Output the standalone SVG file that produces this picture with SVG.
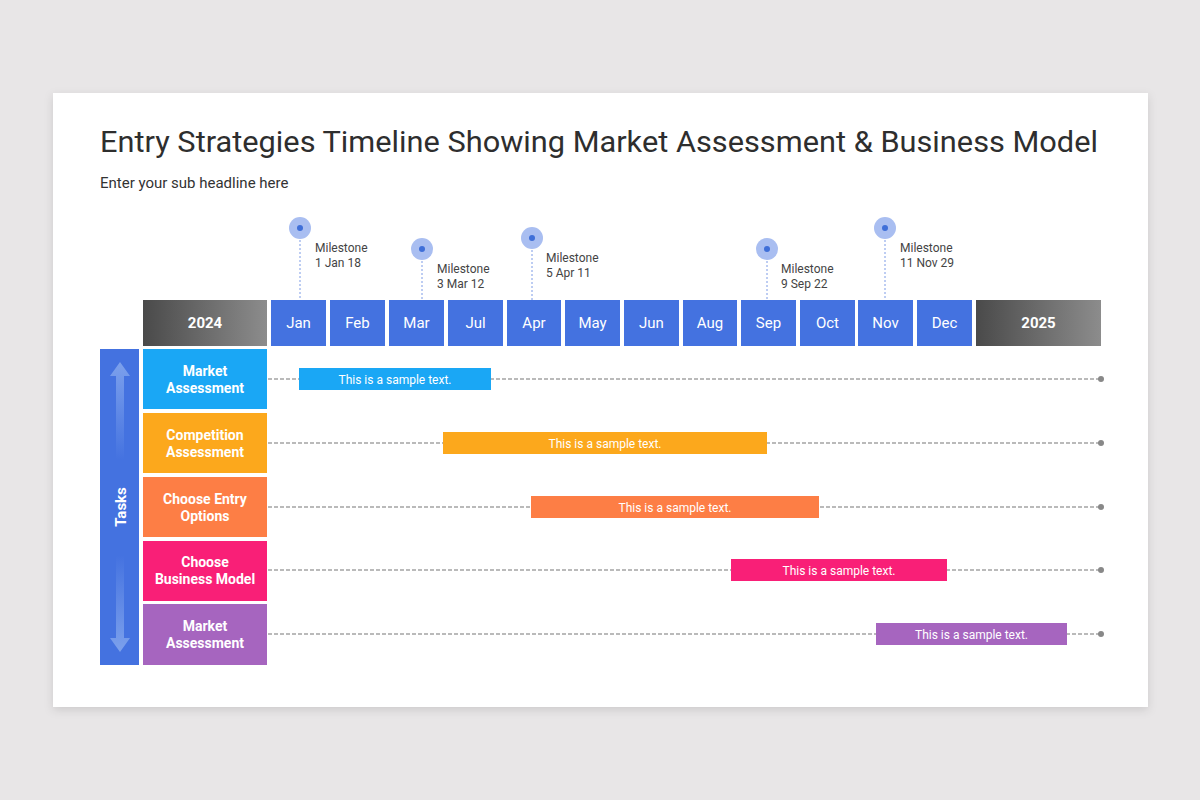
<svg xmlns="http://www.w3.org/2000/svg" width="1200" height="800" viewBox="0 0 1200 800">
<defs>
<filter id="sh" x="-5%" y="-5%" width="110%" height="115%"><feDropShadow dx="0" dy="3" stdDeviation="5" flood-color="#000" flood-opacity="0.12"/></filter>
<linearGradient id="yr" x1="0" y1="0" x2="1" y2="0"><stop offset="0" stop-color="#4a4a4a"/><stop offset="1" stop-color="#8c8c8c"/></linearGradient>
<linearGradient id="up" x1="0" y1="0" x2="0" y2="1"><stop offset="0" stop-color="#8fb0f0" stop-opacity="0.75"/><stop offset="1" stop-color="#8fb0f0" stop-opacity="0"/></linearGradient>
<linearGradient id="dn" x1="0" y1="1" x2="0" y2="0"><stop offset="0" stop-color="#8fb0f0" stop-opacity="0.75"/><stop offset="1" stop-color="#8fb0f0" stop-opacity="0"/></linearGradient>
<style>
text{font-family:Roboto,"Liberation Sans",sans-serif}
.mon{fill:#4472e0}
.mt{fill:#fff;font-size:15px;text-anchor:middle}
.yt{fill:#fff;font-size:15px;font-weight:bold;text-anchor:middle}
.ms{fill:#444;font-size:12px}
.mc{fill:#a9bef1}
.md{fill:#3f6fd8}
.ml{stroke:#7d9be6;stroke-width:1;stroke-dasharray:2 2}
.tl{fill:#fff;font-size:14px;font-weight:bold;text-anchor:middle}
.bt{fill:#fff;font-size:12px;text-anchor:middle}
.dash{stroke:#777;stroke-width:1.2;stroke-dasharray:4 2;fill:none}
.end{fill:#888}
</style>
</defs>
<rect width="1200" height="800" fill="#e8e6e7"/>
<rect x="53" y="93" width="1095" height="614" fill="#fff" filter="url(#sh)"/>
<text x="100" y="152" font-size="30" fill="#2e2e2e" textLength="998" lengthAdjust="spacingAndGlyphs">Entry Strategies Timeline Showing Market Assessment &amp; Business Model</text>
<text x="100" y="188" font-size="15" fill="#333">Enter your sub headline here</text>

<g id="connectors">
<line class="dash" x1="268" y1="379" x2="1101" y2="379"/><circle class="end" cx="1101" cy="379" r="3"/>
<line class="dash" x1="268" y1="443" x2="1101" y2="443"/><circle class="end" cx="1101" cy="443" r="3"/>
<line class="dash" x1="268" y1="507" x2="1101" y2="507"/><circle class="end" cx="1101" cy="507" r="3"/>
<line class="dash" x1="268" y1="570" x2="1101" y2="570"/><circle class="end" cx="1101" cy="570" r="3"/>
<line class="dash" x1="268" y1="634" x2="1101" y2="634"/><circle class="end" cx="1101" cy="634" r="3"/>
<line class="ml" x1="300" y1="232" x2="300" y2="300"/>
<line class="ml" x1="422" y1="253" x2="422" y2="300"/>
<line class="ml" x1="532" y1="242" x2="532" y2="300"/>
<line class="ml" x1="767" y1="253" x2="767" y2="300"/>
<line class="ml" x1="885" y1="232" x2="885" y2="300"/>
</g>

<g id="milestones">
<g id="ms1"><circle class="mc" cx="300" cy="228" r="11"/><circle class="md" cx="300" cy="228" r="3"/><text class="ms" x="315" y="252">Milestone</text><text class="ms" x="315" y="267">1 Jan 18</text></g>
<g id="ms2"><circle class="mc" cx="422" cy="249" r="11"/><circle class="md" cx="422" cy="249" r="3"/><text class="ms" x="437" y="273">Milestone</text><text class="ms" x="437" y="288">3 Mar 12</text></g>
<g id="ms3"><circle class="mc" cx="532" cy="238" r="11"/><circle class="md" cx="532" cy="238" r="3"/><text class="ms" x="546" y="262">Milestone</text><text class="ms" x="546" y="277">5 Apr 11</text></g>
<g id="ms4"><circle class="mc" cx="767" cy="249" r="11"/><circle class="md" cx="767" cy="249" r="3"/><text class="ms" x="781" y="273">Milestone</text><text class="ms" x="781" y="288">9 Sep 22</text></g>
<g id="ms5"><circle class="mc" cx="885" cy="228" r="11"/><circle class="md" cx="885" cy="228" r="3"/><text class="ms" x="900" y="252">Milestone</text><text class="ms" x="900" y="267">11 Nov 29</text></g>
</g>

<g id="header">
<g id="y2024"><rect x="143" y="300" width="124" height="46" fill="url(#yr)"/><text class="yt" x="205" y="328">2024</text></g>
<g id="m-jan"><rect class="mon" x="271" y="300" width="55" height="46"/><text class="mt" x="298.5" y="328">Jan</text></g>
<g id="m-feb"><rect class="mon" x="330" y="300" width="55" height="46"/><text class="mt" x="357.5" y="328">Feb</text></g>
<g id="m-mar"><rect class="mon" x="389" y="300" width="55" height="46"/><text class="mt" x="416.5" y="328">Mar</text></g>
<g id="m-jul"><rect class="mon" x="448" y="300" width="55" height="46"/><text class="mt" x="475.5" y="328">Jul</text></g>
<g id="m-apr"><rect class="mon" x="507" y="300" width="54" height="46"/><text class="mt" x="534" y="328">Apr</text></g>
<g id="m-may"><rect class="mon" x="565" y="300" width="55" height="46"/><text class="mt" x="592.5" y="328">May</text></g>
<g id="m-jun"><rect class="mon" x="624" y="300" width="55" height="46"/><text class="mt" x="651.5" y="328">Jun</text></g>
<g id="m-aug"><rect class="mon" x="683" y="300" width="54" height="46"/><text class="mt" x="710" y="328">Aug</text></g>
<g id="m-sep"><rect class="mon" x="741" y="300" width="55" height="46"/><text class="mt" x="768.5" y="328">Sep</text></g>
<g id="m-oct"><rect class="mon" x="800" y="300" width="55" height="46"/><text class="mt" x="827.5" y="328">Oct</text></g>
<g id="m-nov"><rect class="mon" x="858" y="300" width="55" height="46"/><text class="mt" x="885.5" y="328">Nov</text></g>
<g id="m-dec"><rect class="mon" x="917" y="300" width="55" height="46"/><text class="mt" x="944.5" y="328">Dec</text></g>
<g id="y2025"><rect x="976" y="300" width="125" height="46" fill="url(#yr)"/><text class="yt" x="1038.5" y="328">2025</text></g>
</g>

<g id="tasks-bar">
<rect x="100" y="349" width="39" height="316" fill="#4472e0"/>
<polygon points="120,362 130,376 124,376 124,460 116,460 116,376 110,376" fill="url(#up)"/>
<polygon points="120,652 130,638 124,638 124,555 116,555 116,638 110,638" fill="url(#dn)"/>
<text transform="translate(125.5,507) rotate(-90)" fill="#fff" font-size="15" font-weight="bold" text-anchor="middle">Tasks</text>
</g>

<g id="task1"><rect x="143" y="349" width="124" height="60" fill="#1aa7f5"/><text class="tl" x="205" y="376">Market</text><text class="tl" x="205" y="393">Assessment</text></g>
<g id="task2"><rect x="143" y="413" width="124" height="60" fill="#fca81c"/><text class="tl" x="205" y="440">Competition</text><text class="tl" x="205" y="457">Assessment</text></g>
<g id="task3"><rect x="143" y="477" width="124" height="60" fill="#fd7e45"/><text class="tl" x="205" y="504">Choose Entry</text><text class="tl" x="205" y="521">Options</text></g>
<g id="task4"><rect x="143" y="541" width="124" height="60" fill="#f91f77"/><text class="tl" x="205" y="567">Choose</text><text class="tl" x="205" y="584">Business Model</text></g>
<g id="task5"><rect x="143" y="604" width="124" height="61" fill="#a665bf"/><text class="tl" x="205" y="631">Market</text><text class="tl" x="205" y="648">Assessment</text></g>

<g id="bar1"><rect x="299" y="368" width="192" height="22" fill="#1aa7f5"/><text class="bt" x="395" y="383.5">This is a sample text.</text></g>
<g id="bar2"><rect x="443" y="432" width="324" height="22" fill="#fca81c"/><text class="bt" x="605" y="447.5">This is a sample text.</text></g>
<g id="bar3"><rect x="531" y="496" width="288" height="22" fill="#fd7e45"/><text class="bt" x="675" y="511.5">This is a sample text.</text></g>
<g id="bar4"><rect x="731" y="559" width="216" height="22" fill="#f91f77"/><text class="bt" x="839" y="574.5">This is a sample text.</text></g>
<g id="bar5"><rect x="876" y="623" width="191" height="22" fill="#a665bf"/><text class="bt" x="971.5" y="638.5">This is a sample text.</text></g>
</svg>
